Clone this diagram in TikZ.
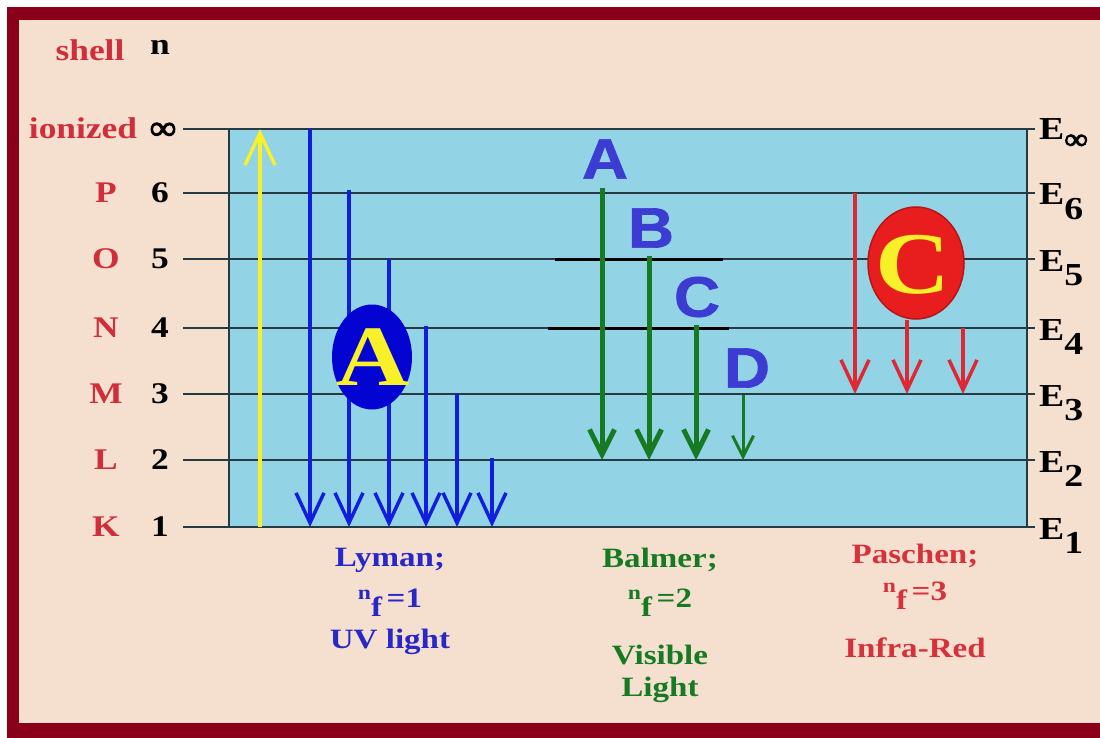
\documentclass[tikz,border=0pt]{standalone}
\usepackage{fontspec}
\setmainfont{Liberation Serif}[FakeStretch=1.18]
\newfontfamily\sansfam{Liberation Sans}[FakeStretch=1.12,FakeBold=1.2]
\newfontfamily\inffam{Liberation Serif}[FakeStretch=1.1,FakeBold=3]
\usetikzlibrary{arrows.meta,shapes.geometric}
\definecolor{framecol}{RGB}{139,0,24}
\definecolor{peach}{RGB}{245,224,208}
\definecolor{boxblue}{RGB}{146,212,230}
\definecolor{levcol}{RGB}{38,58,66}
\definecolor{lblred}{RGB}{208,46,58}
\definecolor{lyblue}{RGB}{18,30,222}
\definecolor{lytext}{RGB}{40,40,200}
\definecolor{bgreen}{RGB}{22,122,34}
\definecolor{pred}{RGB}{222,40,52}
\definecolor{ptext}{RGB}{215,50,60}
\definecolor{ellblue}{RGB}{4,4,210}
\definecolor{ellred}{RGB}{232,30,30}
\definecolor{ellredline}{RGB}{185,20,20}
\definecolor{yel}{RGB}{248,240,40}
\definecolor{letblue}{RGB}{60,60,210}
\newcommand\myfs[1]{\fontsize{#1}{#1}\selectfont}
\newcommand\myinf{{\inffam\mdseries ∞}}
\tikzset{
  lev/.style={draw=levcol,line width=2pt},
  redlbl/.style={text=lblred,font=\bfseries\myfs{30},inner sep=0pt},
  numlbl/.style={text=black,font=\bfseries\myfs{30},inner sep=0pt},
  elbl/.style={text=black,font=\bfseries\myfs{32},inner sep=0pt,anchor=base west},
  lyarr/.style={draw=lyblue,line width=3.5pt,-{Straight Barb[length=30pt,width=28pt]}},
  baarr/.style={draw=bgreen,line width=5pt,-{Straight Barb[length=25pt,width=25pt]}},
  basmall/.style={draw=bgreen,line width=3pt,-{Straight Barb[length=21pt,width=21pt]}},
  paarr/.style={draw=pred,line width=3.5pt,-{Straight Barb[length=30pt,width=28pt]}},
  yarr/.style={draw=yel,line width=3.5pt,-{Straight Barb[length=32pt,width=30pt]}},
  balet/.style={text=letblue,font=\sansfam\bfseries\myfs{57},inner sep=0pt},
  bottxt/.style={font=\bfseries\myfs{28},inner sep=0pt},
}
\begin{document}
\begin{tikzpicture}[x=1pt,y=-1pt]
\useasboundingbox (0,0) rectangle (1100,738);
\fill[white] (0,0) rectangle (1100,738);
\fill[framecol] (7,7) rectangle (1100,738);
\fill[peach] (19,20) rectangle (1100,723);
% blue box
\fill[boxblue] (229,129) rectangle (1027,527);
\draw[lev] (229,129) -- (229,527);
\draw[lev] (1027,129) -- (1027,527);
% level lines
\foreach \y/\nm in {129/inf,193/six,259/five,328/four,394/three,460/two,527/one}{
  \coordinate (L\nm) at (183,\y);
  \coordinate (R\nm) at (1035,\y);
  \draw[lev] (L\nm) -- (R\nm);
}
% left labels
\node[redlbl] (shell) at (90,50) {shell};
\node[numlbl] (nhead) at (160,47) {n};
\node[redlbl] (ioniz) at (83,128) {ionized};
\node[numlbl] (ninf) at (163,131) {\myfs{34}\myinf};
\foreach \y/\s/\n/\k in {193/P/6/a,259/O/5/b,328/N/4/c,394/M/3/d,460/L/2/e,527/K/1/f}{
  \node[redlbl] (sh\k) at (106,\y) {\s};
  \node[numlbl] (nn\k) at (160,\y) {\n};
}
% right labels
\node[elbl] (Einf) at (1039,140) {E\raisebox{-9pt}{\myfs{30}\myinf}};
\foreach \y/\n/\k in {193/6/a,259/5/b,328/4/c,394/3/d,460/2/e,527/1/f}{
  \node[elbl] (E\k) at (1039,\y+12) {E\raisebox{-14pt}{\n}};
}
% yellow arrow
\coordinate (ys) at (260,527);
\coordinate (ye) at (260,129);
\draw[yarr] (ys) -- (ye);
% Lyman arrows
\foreach \x/\y/\k in {310/129/a,349/190/b,389/259/c,426/326/d,457/394/e,492/458/f}{
  \coordinate (lys\k) at (\x,\y);
  \coordinate (lye\k) at (\x,527);
  \draw[lyarr] (lys\k) -- (lye\k);
}
% ellipse A
\node[ellipse,fill=ellblue,minimum width=80pt,minimum height=105pt,inner sep=0pt] (ellA) at (372,357) {};
\node[text=yel,font=\bfseries\myfs{86},inner sep=0pt] (letA) at (373,357) {A};
% Balmer short lines
\coordinate (b5l) at (555,259); \coordinate (b5r) at (723,259);
\coordinate (b4l) at (548,328); \coordinate (b4r) at (729,328);
\draw[black,line width=3pt] (b5l) -- (b5r);
\draw[black,line width=3pt] (b4l) -- (b4r);
% Balmer arrows
\foreach \x/\y/\k in {602/188/a,649/256/b,696/325/c}{
  \coordinate (bas\k) at (\x,\y);
  \coordinate (bae\k) at (\x,460);
  \draw[baarr] (bas\k) -- (bae\k);
}
\coordinate (basd) at (743,395);
\coordinate (baed) at (743,460);
\draw[basmall] (basd) -- (baed);
\node[balet] (bA) at (605,159) {A};
\node[balet] (bB) at (651,228) {B};
\node[balet] (bC) at (697,297) {C};
\node[balet] (bD) at (747,368) {D};
% Paschen arrows
\coordinate (pas1) at (855,193); \coordinate (pae1) at (855,394);
\coordinate (pas3) at (963,328); \coordinate (pae3) at (963,394);
\draw[paarr] (pas1) -- (pae1);
\draw[paarr] (pas3) -- (pae3);
\node[ellipse,fill=ellred,draw=ellredline,line width=1.5pt,minimum width=96pt,minimum height=112pt,inner sep=0pt] (ellC) at (916,263) {};
\node[text=yel,font=\bfseries\myfs{88},inner sep=0pt] (letC) at (913,265) {C};
\coordinate (pae2) at (907,394);
\draw[paarr] (ellC.south -| pae2) -- (pae2);
% bottom texts
\node[bottxt,text=lytext] (ly1) at (390,560) {Lyman;};
\node[bottxt,text=lytext] (ly2) at (390,603) {\raisebox{8pt}{\myfs{20}n}\raisebox{-9pt}{f}\,=1};
\node[bottxt,text=lytext] (ly3) at (390,642) {UV light};
\node[bottxt,text=bgreen] (ba1) at (660,560) {Balmer;};
\node[bottxt,text=bgreen] (ba2) at (660,603) {\raisebox{8pt}{\myfs{20}n}\raisebox{-9pt}{f}\,=2};
\node[bottxt,text=bgreen] (ba3) at (660,655) {Visible};
\node[bottxt,text=bgreen] (ba4) at (660,690) {Light};
\node[bottxt,text=ptext] (pa1) at (915,556) {Paschen;};
\node[bottxt,text=ptext] (pa2) at (915,596) {\raisebox{8pt}{\myfs{20}n}\raisebox{-9pt}{f}\,=3};
\node[bottxt,text=ptext] (pa3) at (915,648) {Infra-Red};
\end{tikzpicture}
\end{document}
